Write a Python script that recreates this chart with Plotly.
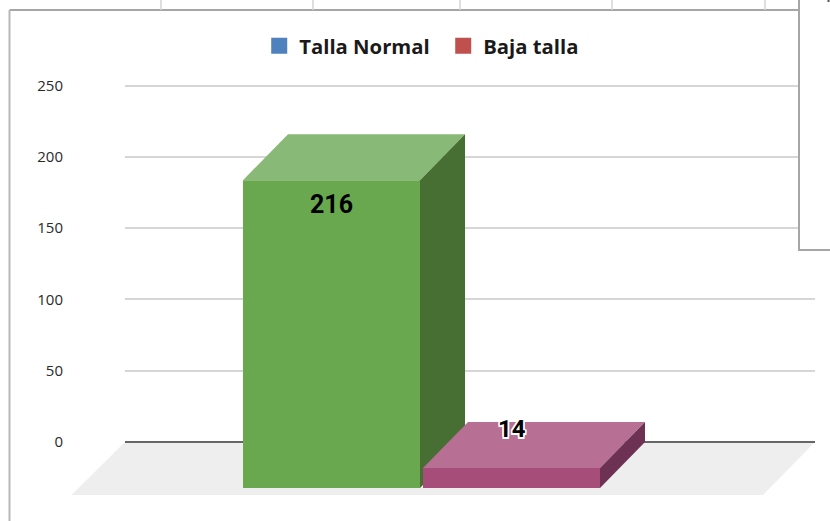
import plotly.graph_objects as go

categories = ["Talla Normal", "Baja talla"]
values = [216, 14]
front_colors = ["#6aa84f", "#a64d79"]
top_colors = ["#89b977", "#b86f94"]
side_colors = ["#476e33", "#6d3253"]
legend_colors = ["#4f81bd", "#c0504d"]
y_ticks = [0, 50, 100, 150, 200, 250]

W, H = 830, 521
ZERO_PX = 442.0
PX_PER_UNIT = 356.3 / 250
LEFT_PX, RIGHT_PX = 125, 815
DX = 45
DEPTH = 46 / PX_PER_UNIT
BAR_LEFT = [243, 423]
BAR_WIDTH = 177

y_min = (ZERO_PX - H) / PX_PER_UNIT
y_max = ZERO_PX / PX_PER_UNIT


def poly(xs, ys, color):
    return go.Scatter(
        x=xs + xs[:1], y=ys + ys[:1], mode="lines", fill="toself", fillcolor=color,
        line=dict(width=0, color=color), hoverinfo="skip", showlegend=False,
    )


fig = go.Figure()

for i, v in enumerate(values):
    x0 = BAR_LEFT[i]
    x1 = x0 + BAR_WIDTH
    base = -DEPTH
    top = v - DEPTH
    fig.add_trace(poly([x0, x1, x1, x0], [base, base, top, top], front_colors[i]))
    fig.add_trace(poly([x0, x1, x1 + DX, x0 + DX], [top, top, v, v], top_colors[i]))
    fig.add_trace(poly([x1, x1 + DX, x1 + DX, x1], [base, 0, v, top], side_colors[i]))

for name, color in zip(categories, legend_colors):
    fig.add_trace(go.Scatter(
        x=[None], y=[None], mode="markers", name=name,
        marker=dict(symbol="square", size=18, color=color),
    ))

fig.add_annotation(x=BAR_LEFT[0] + BAR_WIDTH / 2, y=values[0] - DEPTH - 24 / PX_PER_UNIT,
                   text=f"<b>{values[0]}</b>", showarrow=False,
                   font=dict(family="Roboto", size=25, color="#000000"))
fig.add_annotation(x=BAR_LEFT[1] + BAR_WIDTH / 2, y=values[1] - 7 / PX_PER_UNIT,
                   text=f"<b>{values[1]}</b>", showarrow=False,
                   font=dict(family="Roboto", size=24, color="#000000",
                             shadow="1.5px 0 0 #fff, -1.5px 0 0 #fff, 0 1.5px 0 #fff, 0 -1.5px 0 #fff, 1.5px 1.5px 0 #fff, -1.5px -1.5px 0 #fff, 1.5px -1.5px 0 #fff, -1.5px 1.5px 0 #fff"))

frame = "#a6a6a6"
floor_path = "M {} {} L {} {} L {} {} L {} {} Z".format(
    LEFT_PX / W, 1 - ZERO_PX / H, RIGHT_PX / W, 1 - ZERO_PX / H,
    763 / W, 1 - 495 / H, 71.5 / W, 1 - 495 / H)
shapes = [
    dict(type="path", xref="paper", yref="paper", path=floor_path, fillcolor="#eeeeee",
         line=dict(width=0), layer="below"),
    dict(type="rect", xref="paper", yref="paper", x0=799 / W, x1=1.01, y0=1 - 250 / H, y1=1.01,
         fillcolor="#ffffff", line=dict(color=frame, width=2), layer="above"),
    dict(type="line", xref="paper", yref="paper", x0=9.5 / W, x1=799 / W, y0=1 - 10 / H, y1=1 - 10 / H,
         line=dict(color=frame, width=2), layer="above"),
    dict(type="line", xref="paper", yref="paper", x0=9.5 / W, x1=9.5 / W, y0=0, y1=1 - 10 / H,
         line=dict(color="#b8b8b8", width=2), layer="above"),
    dict(type="line", xref="paper", yref="paper", x0=828.5 / W, x1=828.5 / W, y0=1 - 2 / H, y1=1,
         line=dict(color="#555555", width=2), layer="above"),
]
for px in [161, 313, 460, 612, 765]:
    shapes.append(dict(type="line", xref="paper", yref="paper", x0=px / W, x1=px / W,
                       y0=1 - 10 / H, y1=1, line=dict(color="#d4d4d4", width=1.5), layer="above"))

fig.update_layout(
    width=W, height=H, autosize=False,
    margin=dict(l=0, r=0, t=0, b=0),
    paper_bgcolor="#ffffff", plot_bgcolor="rgba(0,0,0,0)",
    xaxis=dict(domain=[LEFT_PX / W, RIGHT_PX / W], range=[LEFT_PX, RIGHT_PX],
               showgrid=False, zeroline=False, showticklabels=False, fixedrange=True),
    yaxis=dict(domain=[0, 1], range=[y_min, y_max], tickmode="array", tickvals=y_ticks,
               ticks="", showline=False, showgrid=True, gridcolor="#d6d6d6", gridwidth=2,
               zeroline=True, zerolinecolor="#666666", zerolinewidth=2,
               fixedrange=True,
               ticklabelstandoff=61, tickfont=dict(family="Open Sans", size=15, color="#2a2a2a")),
    legend=dict(orientation="h", x=0.534, xanchor="center", y=1 - 46 / H, yanchor="middle",
                font=dict(family="Open Sans", size=20.3, color="#1a1a1a", weight=700),
                entrywidth=139, entrywidthmode="pixels",
                bgcolor="rgba(0,0,0,0)", traceorder="normal"),
    shapes=shapes,
    showlegend=True,
)
fig.write_html("out.html", config={"displayModeBar": False},
               post_script="document.body.style.margin='0';")
